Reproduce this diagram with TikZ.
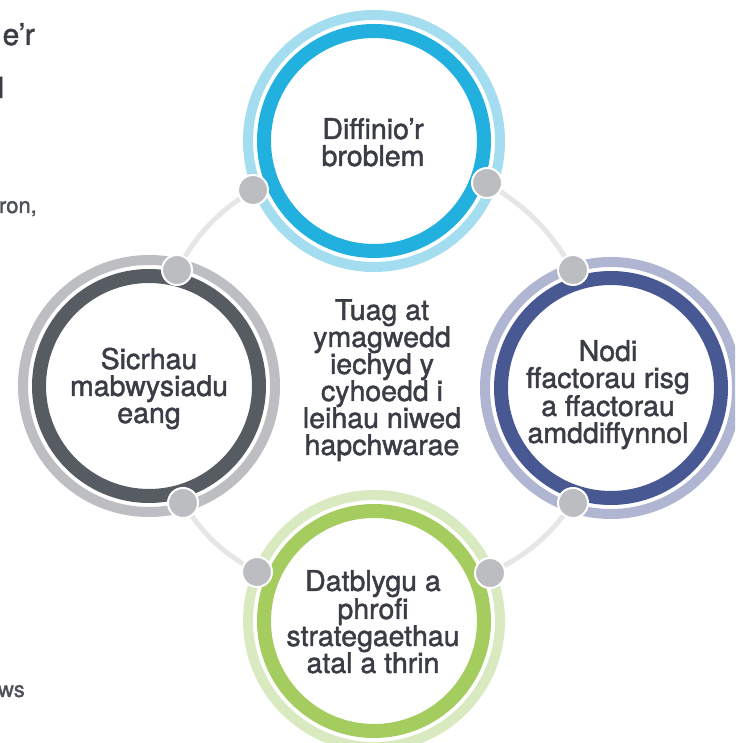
\documentclass[tikz,border=0pt]{standalone}
\usepackage{fontspec}
\setmainfont{TeX Gyre Heros}[FakeBold=1.5]
\definecolor{txtc}{HTML}{3A3D45}
\definecolor{sidec}{HTML}{4D5057}
\definecolor{connc}{HTML}{E6E6E6}
\definecolor{dotc}{HTML}{BCBDC1}
\definecolor{tdark}{HTML}{22B0DE}
\definecolor{tlight}{HTML}{A5DDF0}
\definecolor{rdark}{HTML}{475892}
\definecolor{rlight}{HTML}{B0B6D1}
\definecolor{bdark}{HTML}{A5CC5F}
\definecolor{blight}{HTML}{D9EAC0}
\definecolor{ldark}{HTML}{575B62}
\definecolor{llight}{HTML}{BDBEC1}
\begin{document}
\begin{tikzpicture}[x=1pt,y=1pt,
  hub/.style={circle, fill=white, minimum size=262pt, inner sep=0pt},
  outerring/.style={line width=10pt},
  innerring/.style={line width=14pt},
  dotnode/.style={circle, fill=dotc, draw=white, line width=2pt, minimum size=30pt, inner sep=0pt},
  conn/.style={draw=connc, line width=5pt},
  lbl/.style={font=\fontsize{28.5}{27}\selectfont, text=txtc, align=center, inner sep=0pt, anchor=base},
  side/.style={text=sidec, inner sep=0pt, anchor=base east}]
\useasboundingbox (0,0) rectangle (735,743);
\clip (0,0) rectangle (735,743);
% side fragments
\node[side, font=\fontsize{30}{30}\selectfont, text=txtc] (s1) at (35,698) {e’r};
\node[side, font=\fontsize{29}{29}\selectfont, text=txtc] (s2) at (4,645) {d};
\node[side, font=\fontsize{22}{22}\selectfont] (s3) at (37,530) {ron,};
\node[side, font=\fontsize{22}{22}\selectfont] (s4) at (25,46) {ws};
% dot positions
\coordinate (tl) at (253,553);
\coordinate (tr) at (487,560);
\coordinate (lt) at (177,473);
\coordinate (lb) at (183,240);
\coordinate (rt) at (573,473);
\coordinate (rb) at (573,240);
\coordinate (bl) at (257,171);
\coordinate (br) at (490,170);
% connectors
\draw[conn] (tl) to[bend right=14] (lt);
\draw[conn] (tr) to[bend left=14] (rt);
\draw[conn] (lb) to[bend right=14] (bl);
\draw[conn] (rb) to[bend left=14] (br);
% circles
\node[hub] (T) at (374,602) {};
\draw[outerring, tlight] (T.center) circle (126);
\draw[innerring, tdark] (T.center) circle (110);
\node[hub] (L) at (149,357) {};
\draw[outerring, llight] (L.center) circle (126);
\draw[innerring, ldark] (L.center) circle (110);
\node[hub] (R) at (611,355) {};
\draw[outerring, rlight] (R.center) circle (126);
\draw[innerring, rdark] (R.center) circle (110);
\node[hub] (B) at (374,122) {};
\draw[outerring, blight] (B.center) circle (126);
\draw[innerring, bdark] (B.center) circle (110);
% dots
\foreach \p in {tl,tr,lt,lb,rt,rb,bl,br} \node[dotnode] (d\p) at (\p) {};
% texts
\node[lbl] (tT) at (373,577) {Diffinio’r\\broblem};
\node[lbl] (tR) at (608,300) {Nodi\\ffactorau risg\\a ffactorau\\amddiffynnol};
\node[lbl] (tB) at (373,70) {Datblygu a\\phrofi\\strategaethau\\atal a thrin};
\node[lbl] (tL) at (149,320) {Sicrhau\\mabwysiadu\\eang};
\node[lbl] (tC) at (382,288) {Tuag at\\ymagwedd\\iechyd y\\cyhoedd i\\leihau niwed\\hapchwarae};
\end{tikzpicture}
\end{document}
